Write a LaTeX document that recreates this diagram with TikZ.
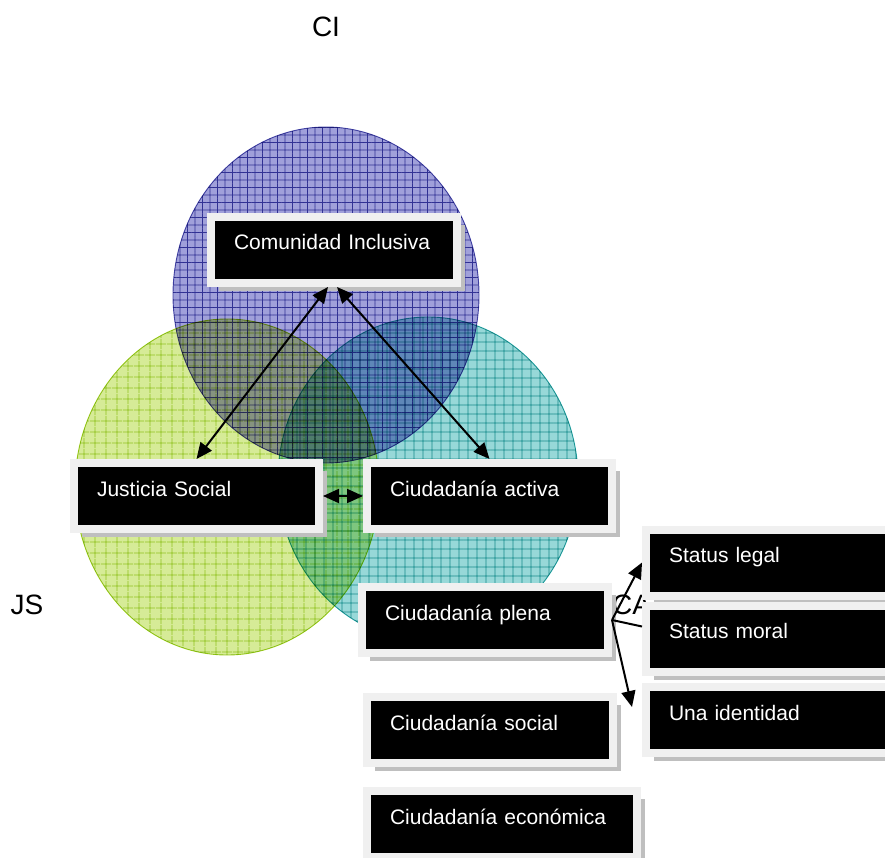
\documentclass[tikz,border=0pt]{standalone}
\usepackage{fontspec}
\setmainfont{Liberation Sans}
\usetikzlibrary{arrows.meta,shadows,patterns.meta}
\newcommand{\bx}{\fontsize{21}{25}\selectfont}
\newcommand{\lb}{\fontsize{28}{32}\selectfont}
\definecolor{cifill}{RGB}{150,150,214}
\definecolor{ciline}{RGB}{80,80,176}
\definecolor{jsfill}{RGB}{210,233,140}
\definecolor{jsline}{RGB}{160,205,30}
\definecolor{cafill}{RGB}{140,212,212}
\definecolor{caline}{RGB}{35,165,165}
\definecolor{boxrim}{RGB}{240,240,240}

\begin{document}
\begin{tikzpicture}[x=1pt,y=-1pt,
  box/.style={fill=black,text=white,draw=boxrim,line width=8pt,
    inner xsep=23pt,inner ysep=4pt,text width=200pt,align=left,
    text height=29pt,text depth=29pt,font=\bx,
    drop shadow={shadow xshift=8pt,shadow yshift=-8pt,fill=black!25,opacity=1}},
  tag/.style={font=\lb,inner sep=0pt},
  link/.style={line width=2pt,>={Triangle[length=16pt,width=14pt]}},
  set/.style n args={3}{fill=#1,draw=#2,line width=.9pt,fill opacity=.9,
    postaction={pattern={Hatch[angle=0,distance=#3,line width=.6pt]},pattern color=#2}}]
  \clip (0,0) rectangle (885,858);

  \begin{scope}[blend group=multiply]
    \path[set={cifill}{ciline}{7.5pt}] (326,295) ellipse [x radius=153, y radius=168];
    \path[set={jsfill}{jsline}{10.5pt}] (227,487) ellipse [x radius=152, y radius=168];
    \path[set={cafill}{caline}{9pt}] (428,479) ellipse [x radius=150, y radius=162];
  \end{scope}

  \node[tag] (ciTag) at (326,27) {CI};
  \node[tag] (jsTag) at (27,605) {JS};
  \node[tag,anchor=west] (caTag) at (612,605) {CA};

  \node[box] (ci) at (334,250) {Comunidad Inclusiva};
  \node[box,text width=199pt] (js) at (196.5,496) {Justicia Social};
  \node[box,text width=199pt] (ca) at (489.5,496) {Ciudadanía activa};
  \node[box] (plena) at (485,620) {Ciudadanía plena};
  \node[box] (legal) at (769,562.5) {Status legal};
  \node[box] (moral) at (769,638.5) {Status moral};
  \node[box] (ident) at (769,720) {Una identidad};
  \node[box] (social) at (490,730) {Ciudadanía social};
  \node[box,text width=224pt] (econ) at (502,824) {Ciudadanía económica};

  \draw[link,<->] ([xshift=-6pt]ci.south) -- (js.north);
  \draw[link,<->] ([xshift=3pt]ci.south) -- (ca.north);
  \draw[link,<->] (js.east) -- (ca.west);
  \draw[link,->] (plena.east) -- (legal.west);
  \draw[link] (plena.east) -- ([yshift=12pt]moral.west);
  \draw[link,->] (plena.east) -- ([xshift=-10pt,yshift=13pt]ident.west);
\end{tikzpicture}
\end{document}
